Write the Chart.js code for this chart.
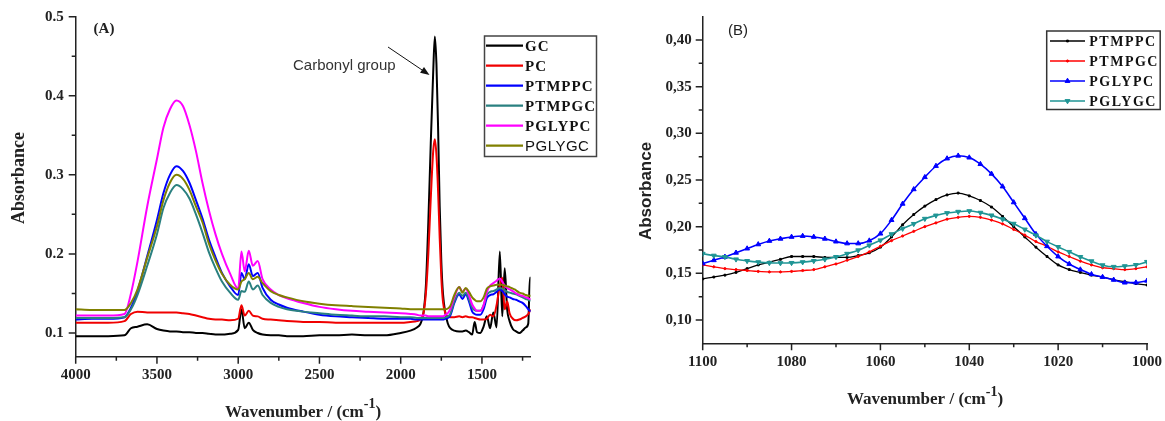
<!DOCTYPE html>
<html>
<head>
<meta charset="utf-8">
<script src="https://cdn.jsdelivr.net/npm/chart.js@4"></script>
<style>
  html, body { margin: 0; padding: 0; background: #fff; }
  #wrap { position: relative; width: 1165px; height: 421px; overflow: hidden; }
  #chartA { position: absolute; left: 0; top: 0; }
  #chartB { position: absolute; left: 600px; top: 0; }
</style>
</head>
<body>
<div id="wrap">
  <canvas id="chartA" width="600" height="421"></canvas>
  <canvas id="chartB" width="565" height="421"></canvas>
</div>
<script>
// ---- panel (A): full spectra ----
const wavenumberA = [
  4000, 3900, 3800, 3700, 3660, 3620, 3560, 3500, 3460, 3420,
  3380, 3340, 3300, 3260, 3220, 3180, 3140, 3100, 3050, 3000,
  2980, 2960, 2935, 2910, 2880, 2850, 2800, 2750, 2700, 2600,
  2500, 2400, 2300, 2200, 2100, 2000, 1940, 1900, 1880, 1860,
  1845, 1830, 1815, 1800, 1790, 1780, 1770, 1760, 1750, 1740,
  1725, 1710, 1695, 1670, 1640, 1620, 1600, 1580, 1560, 1545,
  1530, 1510, 1490, 1470, 1450, 1430, 1410, 1390, 1375, 1360,
  1345, 1330, 1310, 1290, 1270, 1250, 1230, 1215, 1205, 1200
];
const gcA = [
  0.096, 0.096, 0.096, 0.097, 0.106, 0.108, 0.111, 0.105, 0.103, 0.102,
  0.102, 0.101, 0.101, 0.100, 0.100, 0.099, 0.098, 0.098, 0.099, 0.104,
  0.130, 0.106, 0.113, 0.104, 0.100, 0.098, 0.097, 0.097, 0.096, 0.096,
  0.097, 0.097, 0.098, 0.097, 0.097, 0.100, 0.103, 0.107, 0.111, 0.125,
  0.160, 0.240, 0.340, 0.430, 0.475, 0.440, 0.360, 0.260, 0.190, 0.150,
  0.125, 0.112, 0.106, 0.103, 0.102, 0.102, 0.103, 0.101, 0.098, 0.114,
  0.101, 0.100, 0.108, 0.121, 0.106, 0.126, 0.107, 0.203, 0.121, 0.182,
  0.130, 0.115, 0.105, 0.102, 0.100, 0.103, 0.107, 0.112, 0.170, 0.170
];
const pcA = [
  0.113, 0.113, 0.113, 0.115, 0.124, 0.127, 0.126, 0.126, 0.126, 0.126,
  0.126, 0.125, 0.124, 0.122, 0.120, 0.118, 0.117, 0.117, 0.116, 0.118,
  0.135, 0.122, 0.128, 0.122, 0.121, 0.118, 0.117, 0.116, 0.115, 0.114,
  0.114, 0.113, 0.113, 0.113, 0.113, 0.113, 0.114, 0.115, 0.117, 0.125,
  0.150, 0.200, 0.270, 0.330, 0.345, 0.325, 0.280, 0.220, 0.170, 0.140,
  0.125, 0.121, 0.120, 0.120, 0.121, 0.120, 0.121, 0.120, 0.120, 0.119,
  0.118, 0.117, 0.117, 0.118, 0.123, 0.121, 0.135, 0.160, 0.170, 0.130,
  0.140, 0.125, 0.118, 0.116, 0.117, 0.119, 0.121, 0.124, 0.128, 0.130
];
const ptmppcA = [
  0.117, 0.118, 0.118, 0.120, 0.132, 0.153, 0.197, 0.243, 0.277, 0.300,
  0.311, 0.305, 0.290, 0.268, 0.245, 0.218, 0.196, 0.176, 0.159, 0.148,
  0.176, 0.168, 0.187, 0.172, 0.176, 0.157, 0.142, 0.136, 0.132, 0.127,
  0.123, 0.121, 0.120, 0.119, 0.118, 0.118, 0.118, 0.117, 0.117, 0.117,
  0.117, 0.117, 0.117, 0.117, 0.117, 0.117, 0.117, 0.117, 0.117, 0.117,
  0.118, 0.119, 0.122, 0.138, 0.149, 0.143, 0.149, 0.140, 0.127, 0.124,
  0.123, 0.123, 0.130, 0.144, 0.148, 0.149, 0.152, 0.155, 0.153, 0.149,
  0.146, 0.145, 0.143, 0.142, 0.140, 0.138, 0.134, 0.130, 0.128, 0.127
];
const ptmpgcA = [
  0.119, 0.119, 0.119, 0.120, 0.130, 0.148, 0.185, 0.225, 0.258, 0.277,
  0.287, 0.282, 0.270, 0.250, 0.227, 0.202, 0.182, 0.165, 0.151, 0.142,
  0.153, 0.152, 0.165, 0.155, 0.160, 0.148, 0.138, 0.133, 0.130, 0.127,
  0.125, 0.123, 0.122, 0.121, 0.121, 0.120, 0.120, 0.119, 0.119, 0.119,
  0.119, 0.119, 0.119, 0.119, 0.119, 0.119, 0.119, 0.119, 0.119, 0.119,
  0.120, 0.121, 0.124, 0.140, 0.151, 0.147, 0.151, 0.143, 0.132, 0.129,
  0.128, 0.128, 0.135, 0.148, 0.152, 0.153, 0.155, 0.157, 0.156, 0.154,
  0.152, 0.151, 0.150, 0.149, 0.147, 0.145, 0.143, 0.142, 0.141, 0.141
];
const pglypcA = [
  0.122, 0.122, 0.122, 0.124, 0.150, 0.190, 0.260, 0.320, 0.360, 0.383,
  0.394, 0.387, 0.363, 0.330, 0.290, 0.255, 0.225, 0.200, 0.175, 0.156,
  0.203, 0.178, 0.204, 0.185, 0.191, 0.168, 0.155, 0.148, 0.144, 0.138,
  0.133, 0.130, 0.128, 0.127, 0.126, 0.125, 0.124, 0.123, 0.122, 0.122,
  0.122, 0.121, 0.121, 0.121, 0.121, 0.121, 0.121, 0.121, 0.121, 0.121,
  0.123, 0.125, 0.130, 0.145, 0.158, 0.152, 0.156, 0.148, 0.136, 0.131,
  0.128, 0.128, 0.135, 0.152, 0.160, 0.163, 0.166, 0.169, 0.165, 0.160,
  0.157, 0.155, 0.153, 0.150, 0.148, 0.147, 0.145, 0.144, 0.143, 0.143
];
const pglygcA = [
  0.130, 0.129, 0.129, 0.129, 0.138, 0.155, 0.195, 0.235, 0.268, 0.290,
  0.300, 0.295, 0.281, 0.260, 0.240, 0.213, 0.192, 0.175, 0.161, 0.155,
  0.165, 0.168, 0.176, 0.168, 0.171, 0.163, 0.153, 0.148, 0.145, 0.140,
  0.137, 0.135, 0.134, 0.133, 0.132, 0.131, 0.130, 0.130, 0.130, 0.130,
  0.130, 0.130, 0.130, 0.130, 0.130, 0.130, 0.130, 0.130, 0.130, 0.130,
  0.130, 0.131, 0.134, 0.148, 0.158, 0.151, 0.157, 0.152, 0.145, 0.142,
  0.140, 0.140, 0.145, 0.156, 0.159, 0.160, 0.161, 0.161, 0.161, 0.160,
  0.159, 0.158, 0.156, 0.154, 0.151, 0.150, 0.148, 0.147, 0.147, 0.147
];
const namesA = ['GC', 'PC', 'PTMPPC', 'PTMPGC', 'PGLYPC', 'PGLYGC'];
const xTicksA = [4000, 3750, 3500, 3250, 3000, 2750, 2500, 2250, 2000, 1750, 1500, 1250];
const xLabelsA = [4000, 3500, 3000, 2500, 2000, 1500];
const yTicksA = [0.1, 0.15, 0.2, 0.25, 0.3, 0.35, 0.4, 0.45, 0.5];
const yLabelsA = [0.1, 0.2, 0.3, 0.4, 0.5];

// ---- panel (B): zoom 1100-1000 ----
const wavenumberB = [
  1100, 1097.5, 1095, 1092.5, 1090, 1087.5, 1085, 1082.5, 1080, 1077.5,
  1075, 1072.5, 1070, 1067.5, 1065, 1062.5, 1060, 1057.5, 1055, 1052.5,
  1050, 1047.5, 1045, 1042.5, 1040, 1037.5, 1035, 1032.5, 1030, 1027.5,
  1025, 1022.5, 1020, 1017.5, 1015, 1012.5, 1010, 1007.5, 1005, 1002.5, 1000
];
const ptmppcB = [
  0.144, 0.146, 0.148, 0.151, 0.155, 0.159, 0.162, 0.165, 0.168, 0.168,
  0.168, 0.167, 0.167, 0.167, 0.169, 0.172, 0.178, 0.189, 0.202, 0.213,
  0.222, 0.229, 0.234, 0.236, 0.233, 0.228, 0.221, 0.211, 0.200, 0.189,
  0.178, 0.168, 0.159, 0.154, 0.151, 0.148, 0.146, 0.143, 0.141, 0.139, 0.1375
];
const ptmpgcB = [
  0.159, 0.157, 0.155, 0.154, 0.153, 0.152, 0.1515, 0.1515, 0.152, 0.153,
  0.154, 0.157, 0.160, 0.164, 0.168, 0.173, 0.179, 0.185, 0.190, 0.195,
  0.200, 0.204, 0.208, 0.210, 0.211, 0.210, 0.207, 0.203, 0.197, 0.191,
  0.184, 0.179, 0.173, 0.168, 0.163, 0.159, 0.156, 0.155, 0.154, 0.155, 0.157
];
const pglypcB = [
  0.1605, 0.164, 0.1676, 0.172, 0.1765, 0.181, 0.1847, 0.187, 0.189, 0.190,
  0.189, 0.187, 0.184, 0.182, 0.182, 0.185, 0.1925, 0.207, 0.2245, 0.240,
  0.253, 0.265, 0.273, 0.276, 0.274, 0.267, 0.2566, 0.243, 0.226, 0.209,
  0.192, 0.179, 0.168, 0.160, 0.154, 0.149, 0.146, 0.143, 0.140, 0.140, 0.142
];
const pglygcB = [
  0.171, 0.169, 0.1676, 0.165, 0.1633, 0.162, 0.1612, 0.161, 0.1612, 0.162,
  0.1633, 0.165, 0.1676, 0.171, 0.1747, 0.180, 0.1854, 0.192, 0.1979, 0.203,
  0.2085, 0.212, 0.2146, 0.216, 0.2167, 0.215, 0.2121, 0.208, 0.2032, 0.197,
  0.1907, 0.184, 0.1783, 0.173, 0.1676, 0.163, 0.1587, 0.157, 0.1577, 0.159, 0.1623
];
const namesB = ['PTMPPC', 'PTMPGC', 'PGLYPC', 'PGLYGC'];
const xTicksB = [1100, 1090, 1080, 1070, 1060, 1050, 1040, 1030, 1020, 1010, 1000];
const xLabelsB = [1100, 1080, 1060, 1040, 1020, 1000];
const yTicksB = [0.1, 0.125, 0.15, 0.175, 0.2, 0.225, 0.25, 0.275, 0.3, 0.325, 0.35, 0.375, 0.4];
const yLabelsB = [0.1, 0.15, 0.2, 0.25, 0.3, 0.35, 0.4];

// styles
const serif = '"Liberation Serif", "Times New Roman", serif';
const sans = '"Liberation Sans", Arial, sans-serif';
const colorsA = ['#000000', '#f00000', '#0000ff', '#2a8080', '#ff00ff', '#808000'];
const colorsB = ['#000000', '#ff0000', '#0000ff', '#1f9595'];

function pairs(xs, ys) {
  return xs.map((x, i) => ({ x: x, y: ys[i] }));
}

function drawTicks(chart, majorX, majorY) {
  const ctx = chart.ctx, a = chart.chartArea;
  const xs = chart.scales.x, ys = chart.scales.y;
  ctx.save();
  ctx.strokeStyle = '#222';
  ctx.lineWidth = 1.5;
  ctx.beginPath();
  xs.ticks.forEach(t => {
    const px = xs.getPixelForValue(t.value);
    const len = majorX.includes(t.value) ? 7 : 4;
    ctx.moveTo(px, a.bottom);
    ctx.lineTo(px, a.bottom + len);
  });
  ys.ticks.forEach(t => {
    const py = ys.getPixelForValue(t.value);
    const len = majorY.includes(t.value) ? 7 : 4;
    ctx.moveTo(a.left, py);
    ctx.lineTo(a.left - len, py);
  });
  ctx.stroke();
  ctx.restore();
}

function drawWaveTitle(ctx, cx, baseline, size) {
  const main = 'Wavenumber / (cm', sup = '-1', end = ')';
  const fMain = 'bold ' + size + 'px ' + serif;
  const fSup = 'bold ' + Math.round(size * 0.82) + 'px ' + serif;
  ctx.save();
  ctx.fillStyle = '#222';
  ctx.textAlign = 'left';
  ctx.textBaseline = 'alphabetic';
  ctx.font = fMain;
  const w1 = ctx.measureText(main).width, w3 = ctx.measureText(end).width;
  ctx.font = fSup;
  const w2 = ctx.measureText(sup).width;
  let x = cx - (w1 + w2 + w3) / 2;
  ctx.font = fMain; ctx.fillText(main, x, baseline); x += w1;
  ctx.font = fSup; ctx.fillText(sup, x, baseline - size * 0.5); x += w2;
  ctx.font = fMain; ctx.fillText(end, x, baseline);
  ctx.restore();
}

function drawRotated(ctx, text, cx, cy, font) {
  ctx.save();
  ctx.translate(cx, cy);
  ctx.rotate(-Math.PI / 2);
  ctx.font = font;
  ctx.fillStyle = '#222';
  ctx.textAlign = 'center';
  ctx.textBaseline = 'middle';
  ctx.fillText(text, 0, 0);
  ctx.restore();
}

function scaleOpts(min, max, reverse, ticks, labels, fmt, fitFn, pad) {
  return {
    type: 'linear', min: min, max: max, reverse: reverse,
    afterBuildTicks: s => { s.ticks = ticks.map(v => ({ value: v })); },
    afterFit: fitFn,
    grid: { drawOnChartArea: false, drawTicks: true, tickLength: 7, tickColor: 'rgba(0,0,0,0)' },
    border: { display: true, color: '#222', width: 1.5 },
    ticks: {
      autoSkip: false, maxRotation: 0, padding: pad, color: '#222',
      font: { family: serif, weight: 'bold', size: 15 },
      callback: v => labels.includes(v) ? fmt(v) : ''
    }
  };
}

// ---- chart A ----
const decorA = {
  id: 'decorA',
  afterDraw(chart) {
    const ctx = chart.ctx;
    drawTicks(chart, xLabelsA, yLabelsA);

    ctx.save();
    ctx.fillStyle = '#222';
    ctx.font = 'bold 15px ' + serif;
    ctx.textAlign = 'center';
    ctx.textBaseline = 'middle';
    ctx.fillText('(A)', 104, 29);
    ctx.restore();

    drawRotated(ctx, 'Absorbance', 19, 178, 'bold 18px ' + serif);
    drawWaveTitle(ctx, 303, 416.5, 17);

    // carbonyl annotation
    ctx.save();
    ctx.fillStyle = '#333';
    ctx.font = '15px ' + sans;
    ctx.textAlign = 'left';
    ctx.textBaseline = 'alphabetic';
    ctx.fillText('Carbonyl group', 293, 70);
    const x0 = 388, y0 = 47, x1 = 429.5, y1 = 75;
    const ang = Math.atan2(y1 - y0, x1 - x0);
    ctx.strokeStyle = '#111';
    ctx.lineWidth = 1;
    ctx.beginPath();
    ctx.moveTo(x0, y0);
    ctx.lineTo(x1 - 6 * Math.cos(ang), y1 - 6 * Math.sin(ang));
    ctx.stroke();
    ctx.fillStyle = '#111';
    ctx.beginPath();
    ctx.moveTo(x1, y1);
    ctx.lineTo(x1 - 9 * Math.cos(ang) + 3.5 * Math.sin(ang), y1 - 9 * Math.sin(ang) - 3.5 * Math.cos(ang));
    ctx.lineTo(x1 - 9 * Math.cos(ang) - 3.5 * Math.sin(ang), y1 - 9 * Math.sin(ang) + 3.5 * Math.cos(ang));
    ctx.closePath();
    ctx.fill();
    ctx.restore();

    // legend
    ctx.save();
    ctx.fillStyle = '#fff';
    ctx.fillRect(484.5, 36, 112, 120.5);
    ctx.strokeStyle = '#444';
    ctx.lineWidth = 1.5;
    ctx.strokeRect(484.5, 36, 112, 120.5);
    namesA.forEach((name, i) => {
      const y = 45.7 + i * 20;
      ctx.strokeStyle = colorsA[i];
      ctx.lineWidth = 2.2;
      ctx.beginPath();
      ctx.moveTo(486, y);
      ctx.lineTo(523, y);
      ctx.stroke();
      ctx.fillStyle = '#111';
      ctx.textAlign = 'left';
      ctx.textBaseline = 'middle';
      if (i === namesA.length - 1) {
        ctx.font = '15px ' + sans;
        ctx.letterSpacing = '0.5px';
      } else {
        ctx.font = 'bold 15px ' + serif;
        ctx.letterSpacing = '1px';
      }
      ctx.fillText(name, 525, y + 1);
    });
    ctx.restore();
  }
};

const seriesA = [gcA, pcA, ptmppcA, ptmpgcA, pglypcA, pglygcA];

new Chart(document.getElementById('chartA'), {
  type: 'line',
  data: {
    datasets: seriesA.map((ys, i) => ({
      label: namesA[i],
      data: pairs(wavenumberA, ys),
      borderColor: colorsA[i],
      borderWidth: 2,
      pointRadius: 0,
      cubicInterpolationMode: 'monotone',
      fill: false,
      order: seriesA.length - i
    }))
  },
  options: {
    responsive: false,
    animation: false,
    events: [],
    layout: { padding: { left: 0, top: 16.7, right: 600 - 530.7, bottom: 0 } },
    plugins: { legend: { display: false }, tooltip: { enabled: false } },
    scales: {
      x: scaleOpts(1200, 4000, true, xTicksA, xLabelsA, v => String(v),
                   s => { s.height = 421 - 356.7; }, 2),
      y: scaleOpts(0.07, 0.5, false, yTicksA, yLabelsA, v => v.toFixed(1),
                   s => { s.width = 75.7; }, 5)
    }
  },
  plugins: [decorA]
});

// ---- chart B ----
const pointStylesB = ['rect', 'circle', 'triangle', 'triangle'];
const pointRotB = [0, 0, 0, 180];
const pointRadiusB = [1.3, 1.1, 2.8, 2.8];
const lineWidthB = [1.3, 1.3, 1.6, 1.6];

const decorB = {
  id: 'decorB',
  afterDraw(chart) {
    const ctx = chart.ctx;
    drawTicks(chart, xLabelsB, yLabelsB);

    ctx.save();
    ctx.fillStyle = '#222';
    ctx.font = '15px ' + sans;
    ctx.textAlign = 'center';
    ctx.textBaseline = 'middle';
    ctx.fillText('(B)', 138, 31);
    ctx.restore();

    drawRotated(ctx, 'Absorbance', 46, 191, 'bold 17px ' + sans);
    drawWaveTitle(ctx, 325, 404, 17);

    // legend
    ctx.save();
    ctx.fillStyle = '#fff';
    ctx.fillRect(446.7, 31, 113.5, 78.5);
    ctx.strokeStyle = '#333';
    ctx.lineWidth = 1.5;
    ctx.strokeRect(446.7, 31, 113.5, 78.5);
    namesB.forEach((name, i) => {
      const y = 41 + i * 20;
      ctx.strokeStyle = colorsB[i];
      ctx.lineWidth = 1.4;
      ctx.beginPath();
      ctx.moveTo(450, y);
      ctx.lineTo(485, y);
      ctx.stroke();
      ctx.fillStyle = colorsB[i];
      ctx.strokeStyle = colorsB[i];
      ctx.lineWidth = 1;
      Chart.helpers.drawPoint(ctx, {
        pointStyle: pointStylesB[i], rotation: pointRotB[i],
        radius: pointRadiusB[i], borderWidth: 1
      }, 467.5, y);
      ctx.fillStyle = '#111';
      ctx.font = 'bold 14px ' + serif;
      ctx.letterSpacing = '1.5px';
      ctx.textAlign = 'left';
      ctx.textBaseline = 'middle';
      ctx.fillText(name, 489.3, y + 1);
    });
    ctx.restore();
  }
};

const seriesB = [ptmppcB, ptmpgcB, pglypcB, pglygcB];

new Chart(document.getElementById('chartB'), {
  type: 'line',
  data: {
    datasets: seriesB.map((ys, i) => ({
      label: namesB[i],
      data: pairs(wavenumberB, ys),
      borderColor: colorsB[i],
      backgroundColor: colorsB[i],
      borderWidth: lineWidthB[i],
      pointStyle: pointStylesB[i],
      pointRotation: pointRotB[i],
      pointRadius: pointRadiusB[i],
      pointBorderWidth: 1,
      pointBackgroundColor: colorsB[i],
      pointBorderColor: colorsB[i],
      cubicInterpolationMode: 'monotone',
      fill: false,
      order: seriesB.length - i
    }))
  },
  options: {
    responsive: false,
    animation: false,
    events: [],
    layout: { padding: { left: 0, top: 16.7, right: 565 - 547.7, bottom: 0 } },
    plugins: { legend: { display: false }, tooltip: { enabled: false } },
    scales: {
      x: scaleOpts(1000, 1100, true, xTicksB, xLabelsB, v => String(v),
                   s => { s.height = 421 - 343.3; }, 3),
      y: scaleOpts(0.075, 0.425, false, yTicksB, yLabelsB, v => v.toFixed(2).replace('.', ','),
                   s => { s.width = 102.7; }, 4)
    }
  },
  plugins: [decorB]
});
</script>
</body>
</html>
